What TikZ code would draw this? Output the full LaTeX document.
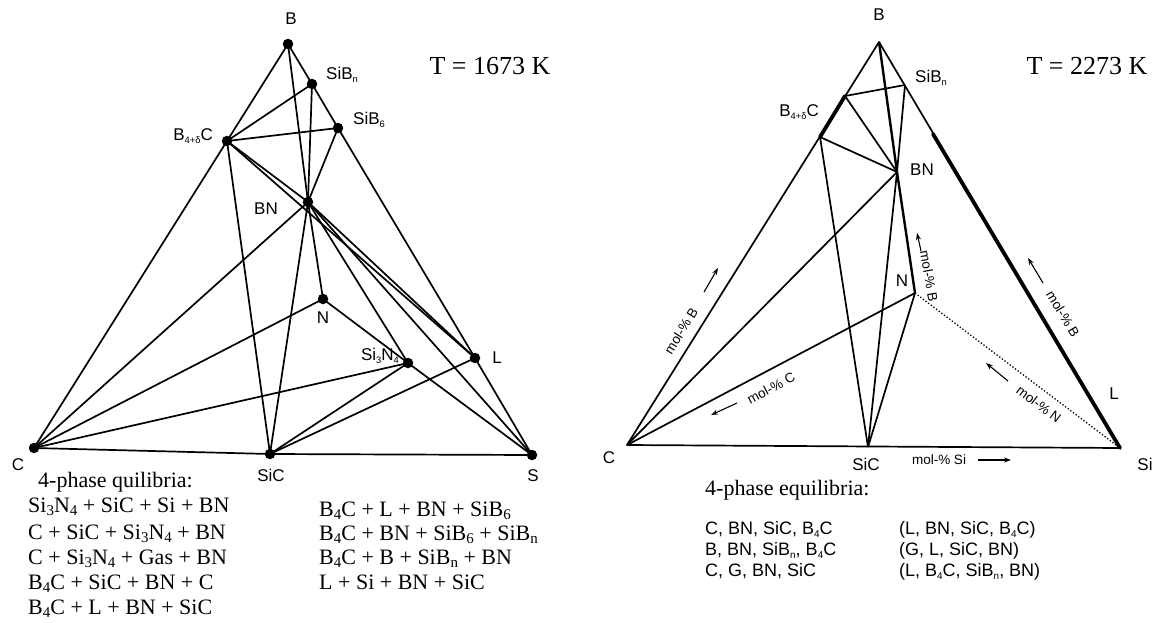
\documentclass[tikz,border=0pt]{standalone}
\usepackage{fontspec}
\setmainfont{Liberation Serif}
\setsansfont{Liberation Sans}
\usetikzlibrary{arrows.meta,calc}
\newcommand\lo[1]{\raisebox{-0.3ex}{\scalebox{0.55}{#1}}}
\newcommand\sbs[1]{\raisebox{-0.3ex}{\scalebox{0.68}{#1}}}
\begin{document}
\begin{tikzpicture}[x=1pt,y=-1pt,
  tie/.style={line width=1.7pt,line join=round},
  mid/.style={line width=2.4pt},
  thk/.style={line width=3.8pt,line cap=round},
  dotpt/.style={circle,fill=black,inner sep=0pt,minimum size=10.5pt},
  lab/.style={font=\sffamily\fontsize{17}{17}\selectfont,inner sep=0pt,text height=0.72em,text depth=0.05em},
  lst/.style={font=\sffamily\fontsize{18}{18}\selectfont,inner sep=0pt,anchor=west,text height=0.72em,text depth=0.2em},
  sm/.style={font=\sffamily\fontsize{13.5}{13.5}\selectfont,inner sep=0pt},
  serif/.style={font=\fontsize{22}{22}\selectfont,inner sep=0pt,anchor=west,text height=0.7em,text depth=0.2em},
  temp/.style={font=\fontsize{26}{26}\selectfont,inner sep=0pt,text height=0.7em,text depth=0.05em},
  marr/.style={-{Stealth[length=7pt,width=5pt]},line width=1.1pt}]
\useasboundingbox (0,0) rectangle (1166,623);
% ---------------- left diagram ----------------
\coordinate (B) at (288,44);
\coordinate (SiBn) at (312,84);
\coordinate (SiB6) at (338,128);
\coordinate (B4C) at (227,141);
\coordinate (BN) at (308,202);
\coordinate (N) at (323,299);
\coordinate (Si3N4) at (408,363);
\coordinate (L) at (475,358);
\coordinate (C) at (34,448);
\coordinate (SiC) at (270,454);
\coordinate (S) at (532,455);
\draw[tie] (B) -- (SiBn) -- (SiB6) -- (L) -- (S) -- (SiC) -- (C) -- (B4C) -- cycle;
\draw[tie] (B) -- (BN);
\draw[tie] (SiBn) -- (B4C);
\draw[tie] (SiBn) -- (BN);
\draw[tie] (SiB6) -- (B4C);
\draw[tie] (SiB6) -- (BN);
\draw[tie] (B4C) -- (BN);
\draw[tie] (B4C) -- (L);
\draw[tie] (B4C) -- (SiC);
\draw[tie] (BN) -- (C);
\draw[tie] (BN) -- (N);
\draw[tie] (BN) -- (SiC);
\draw[tie] (BN) -- (Si3N4);
\draw[tie] (BN) -- (L);
\draw[tie] (BN) -- (S);
\draw[tie] (N) -- (C);
\draw[tie] (N) -- (Si3N4) -- (S);
\draw[tie] (Si3N4) -- (C);
\draw[tie] (Si3N4) -- (SiC);
\draw[tie] (L) -- (SiC);
\foreach \p in {B,SiBn,SiB6,B4C,BN,N,Si3N4,L,C,SiC,S}
  \node[dotpt] (d\p) at (\p) {};
\node[lab] (lB) at (291,21) {B};
\node[lab,anchor=west] (lSiBn) at (326,76) {SiB\lo{n}};
\node[lab,anchor=west] (lSiB6) at (353,121) {SiB\lo{6}};
\node[lab,anchor=east] (lB4C) at (213,137) {B\lo{4+δ}C};
\node[lab] (lBN) at (266,211) {BN};
\node[lab] (lN) at (323,320) {N};
\node[lab,anchor=east] (lSi3N4) at (399,357) {Si\lo{3}N\lo{4}};
\node[lab] (lL) at (497,360) {L};
\node[lab] (lC) at (18,467) {C};
\node[lab] (lSiC) at (271,478) {SiC};
\node[lab] (lS) at (533,478) {S};
\node[temp] (T1) at (490,71) {T = 1673 K};
\node[serif] (q0) at (38,485) {4-phase quilibria:};
\node[serif] (q1) at (28,510) {Si\sbs{3}N\sbs{4} + SiC + Si + BN};
\node[serif] (q2) at (28,537) {C + SiC + Si\sbs{3}N\sbs{4} + BN};
\node[serif] (q3) at (28,562) {C + Si\sbs{3}N\sbs{4} + Gas + BN};
\node[serif] (q4) at (28,587) {B\sbs{4}C + SiC + BN + C};
\node[serif] (q5) at (28,612) {B\sbs{4}C + L + BN + SiC};
\node[serif] (q6) at (319,514) {B\sbs{4}C + L + BN + SiB\sbs{6}};
\node[serif] (q7) at (319,538) {B\sbs{4}C + BN + SiB\sbs{6} + SiB\sbs{n}};
\node[serif] (q8) at (319,562) {B\sbs{4}C + B + SiB\sbs{n} + BN};
\node[serif] (q9) at (319,587) {L + Si + BN + SiC};
% ---------------- right diagram ----------------
\coordinate (rB) at (879,42);
\coordinate (rSiBn) at (905,85);
\coordinate (rBa) at (845,96);
\coordinate (rBb) at (820,137);
\coordinate (rBN) at (897,172);
\coordinate (rN) at (915,293);
\coordinate (rC) at (627,445);
\coordinate (rSiC) at (868,447);
\coordinate (rSi) at (1120,448);
\coordinate (rL) at (933,134);
\draw[tie] (rB) -- (rC) -- (rSi) -- cycle;
\draw[thk] (rBa) -- (rBb);
\draw[thk] (rL) -- (rSi);
\draw[tie] (rSiBn) -- (rBa);
\draw[tie] (rSiBn) -- (rBN);
\draw[tie] (rBa) -- (rBN);
\draw[tie] (rBb) -- (rBN);
\draw[tie] (rBb) -- (rSiC);
\draw[tie] (rC) -- (rBN);
\draw[tie] (rC) -- (rN);
\draw[tie] (rSiC) -- (rBN);
\draw[tie] (rSiC) -- (rN);
\draw[mid] (rB) -- (rBN) -- (rN);
\draw[line width=1.3pt,dotted] (rN) -- (rSi);
\node[lab] (rlB) at (879,17) {B};
\node[lab,anchor=west] (rlSiBn) at (915,79) {SiB\lo{n}};
\node[lab,anchor=east] (rlB4C) at (819,113) {B\lo{4+δ}C};
\node[lab,anchor=west] (rlBN) at (910,172) {BN};
\node[lab] (rlN) at (902,283) {N};
\node[lab] (rlL) at (1114,396) {L};
\node[lab] (rlC) at (609,460) {C};
\node[lab] (rlSiC) at (866,467) {SiC};
\node[lab] (rlSi) at (1145,467) {Si};
\node[temp] (T2) at (1087,71) {T = 2273 K};
% mol-% labels
\node[sm,rotate=58] (mB1) at (681,331) {mol-\% B};
\coordinate (mB1a) at (704,292); \coordinate (mB1b) at (718,268);
\draw[marr] (mB1a) -- (mB1b);
\node[sm,rotate=28] (mC) at (771,388) {mol-\% C};
\coordinate (mCa) at (737,403); \coordinate (mCb) at (711,415);
\draw[marr] (mCa) -- (mCb);
\node[sm,rotate=-80] (mB2) at (929,276) {mol-\% B};
\coordinate (mB2a) at (921,251); \coordinate (mB2b) at (917,233);
\draw[marr] (mB2a) -- (mB2b);
\node[sm,rotate=-59] (mB3) at (1063,314) {mol-\% B};
\coordinate (mB3a) at (1043,283); \coordinate (mB3b) at (1028,258);
\draw[marr] (mB3a) -- (mB3b);
\node[sm,rotate=-37] (mN) at (1039,404) {mol-\% N};
\coordinate (mNa) at (1008,381); \coordinate (mNb) at (986,363);
\draw[marr] (mNa) -- (mNb);
\node[sm] (mSi) at (939,460) {mol-\% Si};
\coordinate (mSia) at (978,460); \coordinate (mSib) at (1011,460);
\draw[marr] (mSia) -- (mSib);
% equilibria list
\node[serif] (e0) at (705,493) {4-phase equilibria:};
\node[lst] (e1) at (705,532) {C, BN, SiC, B\lo{4}C};
\node[lst] (e2) at (705,553) {B, BN, SiB\lo{n}, B\lo{4}C};
\node[lst] (e3) at (705,574) {C, G, BN, SiC};
\node[lst] (e4) at (899,532) {(L, BN, SiC, B\lo{4}C)};
\node[lst] (e5) at (899,553) {(G, L, SiC, BN)};
\node[lst] (e6) at (899,574) {(L, B\lo{4}C, SiB\lo{n}, BN)};
\end{tikzpicture}
\end{document}
